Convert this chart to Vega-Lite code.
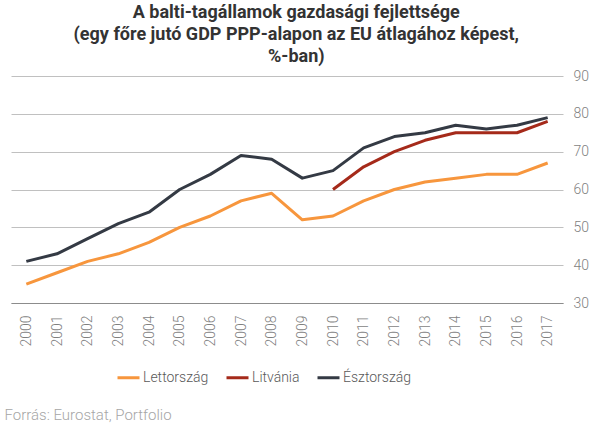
{
  "$schema": "https://vega.github.io/schema/vega-lite/v6.json",
  "width": 552,
  "height": 227,
  "autosize": {"type": "none"},
  "padding": {"left": 11, "top": 76, "right": 37, "bottom": 121},
  "background": "white",
  "title": {
    "text": ["A balti-tagállamok gazdasági fejlettsége", "(egy főre jutó GDP PPP-alapon az EU átlagához képest,", "%-ban)"],
    "anchor": "middle",
    "frame": "bounds",
    "font": "Roboto",
    "fontSize": 18,
    "fontWeight": "bold",
    "color": "#333333",
    "lineHeight": 22,
    "offset": 3
  },
  "data": {
    "values": [
      {"year": "2000", "country": "Lettország", "value": 35},
      {"year": "2001", "country": "Lettország", "value": 38},
      {"year": "2002", "country": "Lettország", "value": 41},
      {"year": "2003", "country": "Lettország", "value": 43},
      {"year": "2004", "country": "Lettország", "value": 46},
      {"year": "2005", "country": "Lettország", "value": 50},
      {"year": "2006", "country": "Lettország", "value": 53},
      {"year": "2007", "country": "Lettország", "value": 57},
      {"year": "2008", "country": "Lettország", "value": 59},
      {"year": "2009", "country": "Lettország", "value": 52},
      {"year": "2010", "country": "Lettország", "value": 53},
      {"year": "2011", "country": "Lettország", "value": 57},
      {"year": "2012", "country": "Lettország", "value": 60},
      {"year": "2013", "country": "Lettország", "value": 62},
      {"year": "2014", "country": "Lettország", "value": 63},
      {"year": "2015", "country": "Lettország", "value": 64},
      {"year": "2016", "country": "Lettország", "value": 64},
      {"year": "2017", "country": "Lettország", "value": 67},
      {"year": "2010", "country": "Litvánia", "value": 60},
      {"year": "2011", "country": "Litvánia", "value": 66},
      {"year": "2012", "country": "Litvánia", "value": 70},
      {"year": "2013", "country": "Litvánia", "value": 73},
      {"year": "2014", "country": "Litvánia", "value": 75},
      {"year": "2015", "country": "Litvánia", "value": 75},
      {"year": "2016", "country": "Litvánia", "value": 75},
      {"year": "2017", "country": "Litvánia", "value": 78},
      {"year": "2000", "country": "Észtország", "value": 41},
      {"year": "2001", "country": "Észtország", "value": 43},
      {"year": "2002", "country": "Észtország", "value": 47},
      {"year": "2003", "country": "Észtország", "value": 51},
      {"year": "2004", "country": "Észtország", "value": 54},
      {"year": "2005", "country": "Észtország", "value": 60},
      {"year": "2006", "country": "Észtország", "value": 64},
      {"year": "2007", "country": "Észtország", "value": 69},
      {"year": "2008", "country": "Észtország", "value": 68},
      {"year": "2009", "country": "Észtország", "value": 63},
      {"year": "2010", "country": "Észtország", "value": 65},
      {"year": "2011", "country": "Észtország", "value": 71},
      {"year": "2012", "country": "Észtország", "value": 74},
      {"year": "2013", "country": "Észtország", "value": 75},
      {"year": "2014", "country": "Észtország", "value": 77},
      {"year": "2015", "country": "Észtország", "value": 76},
      {"year": "2016", "country": "Észtország", "value": 77},
      {"year": "2017", "country": "Észtország", "value": 79}
    ]
  },
  "mark": {"type": "line", "strokeWidth": 3, "strokeJoin": "round"},
  "encoding": {
    "x": {
      "field": "year",
      "type": "ordinal",
      "scale": {"type": "point", "padding": 0.5},
      "axis": {
        "title": "Forrás: Eurostat, Portfolio",
        "titleFont": "Roboto",
        "titleFontSize": 15,
        "titleFontWeight": 300,
        "titleColor": "#a6a6a6",
        "titleAnchor": "start",
        "titleAlign": "left",
        "titleBaseline": "alphabetic",
        "titleX": -7,
        "titleY": 116,
        "labelAngle": -90,
        "labelAlign": "right",
        "labelBaseline": "middle",
        "labelPadding": 12,
        "labelFont": "Roboto",
        "labelFontSize": 14,
        "labelFontWeight": 300,
        "labelColor": "#7f7f7f",
        "ticks": false,
        "domainColor": "#8c8c8c",
        "domainWidth": 1,
        "grid": false
      }
    },
    "y": {
      "field": "value",
      "type": "quantitative",
      "scale": {"domain": [30, 90], "nice": false, "zero": false},
      "axis": {
        "orient": "right",
        "title": null,
        "values": [30, 40, 50, 60, 70, 80, 90],
        "domain": false,
        "ticks": false,
        "grid": true,
        "gridColor": "#c0c0c0",
        "gridWidth": 1,
        "labelPadding": 10,
        "labelFont": "Roboto",
        "labelFontSize": 14,
        "labelFontWeight": 300,
        "labelColor": "#7f7f7f"
      }
    },
    "color": {
      "field": "country",
      "type": "nominal",
      "sort": ["Lettország", "Litvánia", "Észtország"],
      "scale": {
        "domain": ["Lettország", "Litvánia", "Észtország"],
        "range": ["#f7963d", "#a52a1a", "#343a44"]
      },
      "legend": {
        "title": null,
        "orient": "none",
        "legendX": 105,
        "legendY": 289,
        "direction": "horizontal",
        "symbolType": "stroke",
        "symbolSize": 484,
        "symbolStrokeWidth": 3,
        "labelFont": "Roboto",
        "labelFontSize": 14,
        "labelFontWeight": 300,
        "labelColor": "#595959",
        "labelOffset": 2,
        "columnPadding": 11
      }
    }
  },
  "config": {"view": {"stroke": null}}
}
